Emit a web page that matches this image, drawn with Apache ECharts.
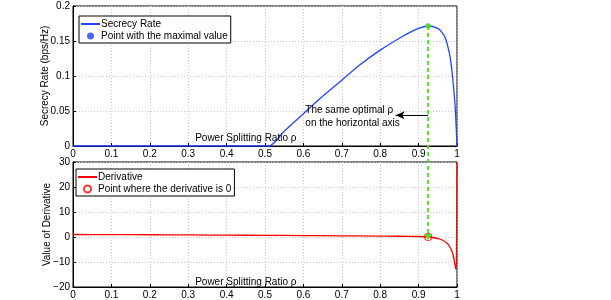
<!DOCTYPE html>
<html><head><meta charset="utf-8">
<script src="https://cdn.jsdelivr.net/npm/echarts@6/dist/echarts.min.js"></script>
<style>html,body{margin:0;padding:0;background:#fff}#c{width:611px;height:300px}</style>
</head><body><div id="c"></div>
<script>
// ---- data ----
const rhoRate = [0, 0.1, 0.2, 0.3, 0.4, 0.5, 0.51, 0.55, 0.6, 0.65, 0.7, 0.75, 0.8, 0.85, 0.88, 0.9, 0.925, 0.95, 0.96, 0.97, 0.98, 0.985, 0.99, 0.995, 1.0];
const secrecyRate = [0, 0, 0, 0, 0, 0, 0, 0.021, 0.046, 0.071, 0.094, 0.117, 0.137, 0.154, 0.163, 0.168, 0.1714, 0.168, 0.163, 0.154, 0.133, 0.116, 0.090, 0.058, 0];
const rhoDeriv = [0, 0.1, 0.2, 0.3, 0.4, 0.5, 0.6, 0.7, 0.8, 0.85, 0.9, 0.925, 0.94, 0.955, 0.965, 0.975, 0.98, 0.985, 0.99, 0.994, 0.997, 0.9985, 1.0];
const derivative = [1.0, 0.95, 0.9, 0.82, 0.74, 0.66, 0.57, 0.48, 0.38, 0.3, 0.2, 0, -0.3, -0.8, -1.5, -2.6, -3.6, -5.0, -7.2, -10.5, -12.8, -10, 30];
const optimalRho = 0.925;
const maxRate = 0.1714;
const zeroDeriv = 0;
const arrowLevel = 0.044;
const arrowEnd = 0.84;
const rateLegend = ['Secrecy Rate', 'Point with the maximal value'];
const derivLegend = ['Derivative', 'Point where the derivative is 0'];
const xLabel = 'Power Splitting Ratio \u03c1';
const yLabelTop = 'Secrecy Rate (bps/Hz)';
const yLabelBottom = 'Value of Derivative';
const noteLines = ['The same optimal \u03c1', 'on the horizontal axis'];

const FONT = 'Liberation Sans, Arial, Helvetica, sans-serif';
const FS = 10;
const BLUE = '#2244ff', RED = '#ff0000', GREEN = '#4fe01a';
const chart = echarts.init(document.getElementById('c'), null, {renderer: 'canvas'});

function xAxisCfg(gi) {
  return {
    type: 'value', gridIndex: gi, min: 0, max: 1, interval: 0.1,
    axisLine: {show: true, onZero: false, lineStyle: {color: '#000', width: 1}},
    axisTick: {show: true, inside: true, length: 3, lineStyle: {color: '#000'}},
    axisLabel: {color: '#000', fontSize: FS, fontFamily: FONT, margin: 3,
      formatter: v => String(Math.round(v * 10) / 10)},
    splitLine: {show: true, lineStyle: {color: '#c8c8c8', type: [1, 2], width: 1}}
  };
}
function yAxisCfg(gi, min, max, interval, fmt) {
  return {
    type: 'value', gridIndex: gi, min: min, max: max, interval: interval,
    axisLine: {show: true, onZero: false, lineStyle: {color: '#000', width: 1}},
    axisTick: {show: true, inside: true, length: 3, lineStyle: {color: '#000'}},
    axisLabel: {color: '#000', fontSize: FS, fontFamily: FONT, margin: 3, formatter: fmt},
    splitLine: {show: true, lineStyle: {color: '#c8c8c8', type: [1, 2], width: 1}}
  };
}
function legendCfg(names, left, top) {
  return {data: [{name: names[0], itemStyle: {opacity: 0}}, {name: names[1]}],
    orient: 'vertical', left: left, top: top, padding: [3, 3, 2, 1], itemGap: 2,
    itemWidth: 19, itemHeight: 7, borderColor: '#000', borderWidth: 1, backgroundColor: '#fff',
    textStyle: {fontSize: FS, fontFamily: FONT, color: '#000', padding: [0, 0, 0, -4]}};
}

const option = {
  animation: false,
  backgroundColor: '#fff',
  textStyle: {fontFamily: FONT},
  grid: [
    {left: 73, top: 6, width: 384, height: 140, show: true, borderColor: '#000', borderWidth: 1, backgroundColor: 'transparent'},
    {left: 73, top: 162, width: 384, height: 125, show: true, borderColor: '#000', borderWidth: 1, backgroundColor: 'transparent'}
  ],
  xAxis: [xAxisCfg(0), xAxisCfg(1)],
  yAxis: [
    yAxisCfg(0, 0, 0.2, 0.05, v => String(Math.round(v * 100) / 100)),
    yAxisCfg(1, -20, 30, 10, v => String(v).replace('-', '\u2212'))
  ],
  legend: [legendCfg(rateLegend, 79, 16), legendCfg(derivLegend, 76, 169)],
  series: [
    {name: rateLegend[0], type: 'line', xAxisIndex: 0, yAxisIndex: 0, symbol: 'none', smooth: 0.3,
      lineStyle: {color: BLUE, width: 1.3}, itemStyle: {color: BLUE},
      data: rhoRate.map((r, i) => [r, secrecyRate[i]]),
      markLine: {silent: true, symbol: ['none', 'arrow'], symbolSize: [6, 9],
        lineStyle: {color: '#000', type: 'solid', width: 1}, label: {show: false},
        data: [[{coord: [optimalRho, arrowLevel]}, {coord: [arrowEnd, arrowLevel]}]]}},
    {name: rateLegend[1], type: 'scatter', xAxisIndex: 0, yAxisIndex: 0, symbol: 'circle', symbolSize: 5,
      itemStyle: {color: BLUE}, data: [[optimalRho, maxRate]], z: 5},
    {name: derivLegend[0], type: 'line', xAxisIndex: 1, yAxisIndex: 1, symbol: 'none', smooth: 0.2,
      lineStyle: {color: RED, width: 1.3}, itemStyle: {color: RED},
      data: rhoDeriv.map((r, i) => [r, derivative[i]])},
    {name: derivLegend[1], type: 'scatter', xAxisIndex: 1, yAxisIndex: 1, symbol: 'circle', symbolSize: 7,
      itemStyle: {color: 'rgba(0,0,0,0)', borderColor: RED, borderWidth: 1.2}, data: [[optimalRho, zeroDeriv]], z: 5}
  ]
};
chart.setOption(option);

const pTop = chart.convertToPixel({gridIndex: 0}, [optimalRho, maxRate]);
const pBot = chart.convertToPixel({gridIndex: 1}, [optimalRho, zeroDeriv]);
const pNote = chart.convertToPixel({gridIndex: 0}, [0.605, arrowLevel]);
const g0 = chart.convertToPixel({gridIndex: 0}, [0.45, 0]);
const g1 = chart.convertToPixel({gridIndex: 1}, [0.45, -20]);
const yt = chart.convertToPixel({gridIndex: 0}, [0, 0.1]);
const yb = chart.convertToPixel({gridIndex: 1}, [0, 5]);

const txt = (x, y, s, extra, rot) => ({type: 'text', x: x, y: y, z: 20, rotation: rot || 0,
  style: Object.assign({text: s, fill: '#000', font: FS + 'px ' + FONT}, extra || {})});

chart.setOption({graphic: [
  {type: 'line', z: 15, shape: {x1: pTop[0], y1: pTop[1], x2: pBot[0], y2: pBot[1]},
    style: {stroke: GREEN, lineWidth: 2, lineDash: [4, 3]}},
  {type: 'circle', z: 16, shape: {cx: pTop[0], cy: pTop[1], r: 2.5}, style: {fill: GREEN}},
  {type: 'polygon', z: 16, shape: {points: [[pBot[0] - 4, pBot[1] - 3], [pBot[0] + 4, pBot[1] - 3], [pBot[0], pBot[1] + 3]]}, style: {fill: GREEN}},
  txt(pNote[0], pNote[1] - 5, noteLines[0], {textVerticalAlign: 'middle'}),
  txt(pNote[0], pNote[1] + 8, noteLines[1], {textVerticalAlign: 'middle'}),
  txt(g0[0], g0[1] - 8, xLabel, {textAlign: 'center', textVerticalAlign: 'middle'}),
  txt(g1[0], g1[1] - 5, xLabel, {textAlign: 'center', textVerticalAlign: 'middle'}),
  txt(45, yt[1], yLabelTop, {textAlign: 'center', textVerticalAlign: 'middle'}, Math.PI / 2),
  txt(47, yb[1], yLabelBottom, {textAlign: 'center', textVerticalAlign: 'middle'}, Math.PI / 2)
]});
</script></body></html>
